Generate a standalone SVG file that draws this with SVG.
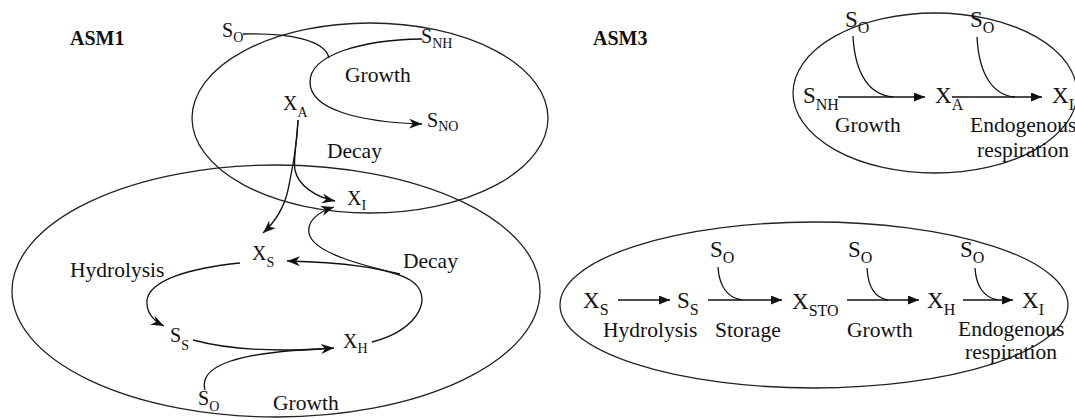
<svg xmlns="http://www.w3.org/2000/svg" width="1075" height="420" viewBox="0 0 1075 420">
<style>
text{font-family:"Liberation Serif","Times New Roman",serif;fill:#111}
.lbl{font-size:21.5px}
.ttl{font-size:20px;font-weight:bold}
.s1{font-size:20px}
.b1{font-size:14px}
.s3{font-size:23px}
.b3{font-size:16px}
.bd{fill:none;stroke:#222;stroke-width:1.3}
.c{fill:none;stroke:#111;stroke-width:1.3}
.a1{marker-end:url(#stealth)}
.a3{marker-end:url(#tri)}
</style>
<defs>
<marker id="stealth" markerUnits="userSpaceOnUse" markerWidth="14" markerHeight="10" refX="13" refY="5" orient="auto">
<path d="M0,0 L13,5 L0,10 L4,5 z" fill="#111"/>
</marker>
<marker id="tri" markerUnits="userSpaceOnUse" markerWidth="11" markerHeight="9" refX="11" refY="4.5" orient="auto">
<path d="M0,0 L11,4.5 L0,9 z" fill="#111"/>
</marker>
</defs>
<rect width="1075" height="420" fill="#fff"/>

<!-- ASM1 -->
<g id="asm1-title"><text class="ttl" x="70" y="45">ASM1</text></g>
<g id="asm1-autotrophs-boundary"><ellipse class="bd" cx="370" cy="118" rx="178" ry="95"/></g>
<g id="asm1-heterotrophs-boundary"><ellipse class="bd" cx="276" cy="291" rx="264" ry="126"/></g>

<g id="asm1-SO-top"><text class="s1" x="222" y="37">S<tspan class="b1" dy="5">O</tspan></text></g>
<g id="asm1-SNH"><text class="s1" x="421" y="43">S<tspan class="b1" dy="5">NH</tspan></text></g>
<g id="asm1-growth-top"><text class="lbl" x="345" y="82">Growth</text></g>
<g id="asm1-XA"><text class="s1" x="283" y="110">X<tspan class="b1" dy="7">A</tspan></text></g>
<g id="asm1-SNO"><text class="s1" x="427" y="127">S<tspan class="b1" dy="4">NO</tspan></text></g>
<g id="asm1-decay-top"><text class="lbl" x="327" y="158">Decay</text></g>
<g id="asm1-XI"><text class="s1" x="347" y="205">X<tspan class="b1" dy="5">I</tspan></text></g>
<g id="asm1-XS"><text class="s1" x="252" y="260">X<tspan class="b1" dy="7">S</tspan></text></g>
<g id="asm1-hydrolysis"><text class="lbl" x="70" y="277">Hydrolysis</text></g>
<g id="asm1-decay-bottom"><text class="lbl" x="403" y="268">Decay</text></g>
<g id="asm1-SS"><text class="s1" x="170" y="342">S<tspan class="b1" dy="8">S</tspan></text></g>
<g id="asm1-XH"><text class="s1" x="343" y="348">X<tspan class="b1" dy="5">H</tspan></text></g>
<g id="asm1-SO-bottom"><text class="s1" x="198" y="405">S<tspan class="b1" dy="6">O</tspan></text></g>
<g id="asm1-growth-bottom"><text class="lbl" x="273" y="410">Growth</text></g>

<!-- ASM3 -->
<g id="asm3-title"><text class="ttl" x="593" y="45">ASM3</text></g>
<g id="asm3-autotrophs-boundary"><ellipse class="bd" cx="935" cy="93" rx="142" ry="80"/></g>
<g id="asm3-heterotrophs-boundary"><ellipse class="bd" cx="814" cy="305" rx="254" ry="83"/></g>

<g id="asm3-SO-1"><text class="s3" x="845" y="27">S<tspan class="b3" dy="6">O</tspan></text></g>
<g id="asm3-SO-2"><text class="s3" x="970" y="27">S<tspan class="b3" dy="6">O</tspan></text></g>
<g id="asm3-SNH"><text class="s3" x="803" y="103">S<tspan class="b3" dy="7">NH</tspan></text></g>
<g id="asm3-XA"><text class="s3" x="935" y="103">X<tspan class="b3" dy="7">A</tspan></text></g>
<g id="asm3-XI-top"><text class="s3" x="1052" y="103">X<tspan class="b3" dy="7">I</tspan></text></g>
<g id="asm3-growth-top"><text class="lbl" x="835" y="132">Growth</text></g>
<g id="asm3-endo-top"><text class="lbl" x="970" y="132">Endogenous</text><text class="lbl" x="977" y="157">respiration</text></g>

<g id="asm3-XS"><text class="s3" x="583" y="308">X<tspan class="b3" dy="7">S</tspan></text></g>
<g id="asm3-SS"><text class="s3" x="677" y="308">S<tspan class="b3" dy="7">S</tspan></text></g>
<g id="asm3-XSTO"><text class="s3" x="792" y="309">X<tspan class="b3" dy="7">STO</tspan></text></g>
<g id="asm3-XH"><text class="s3" x="927" y="308">X<tspan class="b3" dy="7">H</tspan></text></g>
<g id="asm3-XI-bottom"><text class="s3" x="1022" y="308">X<tspan class="b3" dy="7">I</tspan></text></g>
<g id="asm3-SO-3"><text class="s3" x="710" y="257">S<tspan class="b3" dy="6">O</tspan></text></g>
<g id="asm3-SO-4"><text class="s3" x="848" y="257">S<tspan class="b3" dy="6">O</tspan></text></g>
<g id="asm3-SO-5"><text class="s3" x="960" y="257">S<tspan class="b3" dy="6">O</tspan></text></g>
<g id="asm3-hydrolysis"><text class="lbl" x="603" y="337">Hydrolysis</text></g>
<g id="asm3-storage"><text class="lbl" x="715" y="337">Storage</text></g>
<g id="asm3-growth-bottom"><text class="lbl" x="847" y="337">Growth</text></g>
<g id="asm3-endo-bottom"><text class="lbl" x="958" y="336">Endogenous</text><text class="lbl" x="965" y="359">respiration</text></g>

<g id="connectors">
<!-- ASM1 autotroph growth -->
<path class="c" d="M243,34 C290,33 325,40 329,58"/>
<path class="c a1" d="M422,39 C360,40 310,55 310,82 C310,110 360,122 422,124"/>
<!-- ASM1 autotroph decay -->
<path class="c a1" d="M298,120 C297,140 293,160 295,170 C298,185 315,197 335,201"/>
<path class="c a1" d="M298,120 C297,150 292,170 288,190 C284,208 275,222 263,233"/>
<!-- ASM1 hydrolysis -->
<path class="c a1" d="M240,263 C190,268 150,280 147,300 C146,312 152,320 164,326"/>
<!-- ASM1 heterotroph growth -->
<path class="c a1" d="M193,340 C230,350 280,352 334,348"/>
<path class="c" d="M205,390 C198,365 240,352 322,349"/>
<!-- ASM1 heterotroph decay -->
<path class="c a1" d="M372,342 C420,330 435,295 410,280 C390,268 340,262 287,261"/>
<path class="c a1" d="M400,274 C360,265 312,252 309,233 C307,221 318,212 334,207"/>

<!-- ASM3 autotrophs -->
<line class="c a3" x1="838" y1="97" x2="925" y2="97"/>
<path class="c" d="M853,36 C855,75 870,95 893,97"/>
<line class="c a3" x1="952" y1="97" x2="1042" y2="97"/>
<path class="c" d="M977,37 C979,75 993,95 1015,97"/>
<!-- ASM3 heterotrophs -->
<line class="c a3" x1="618" y1="300" x2="670" y2="300"/>
<line class="c a3" x1="708" y1="300" x2="782" y2="300"/>
<path class="c" d="M718,267 C719,285 727,298 742,300"/>
<line class="c a3" x1="847" y1="300" x2="919" y2="300"/>
<path class="c" d="M867,268 C868,286 875,298 888,300"/>
<line class="c a3" x1="963" y1="300" x2="1013" y2="300"/>
<path class="c" d="M975,268 C976,286 984,298 998,300"/>
</g>
</svg>
